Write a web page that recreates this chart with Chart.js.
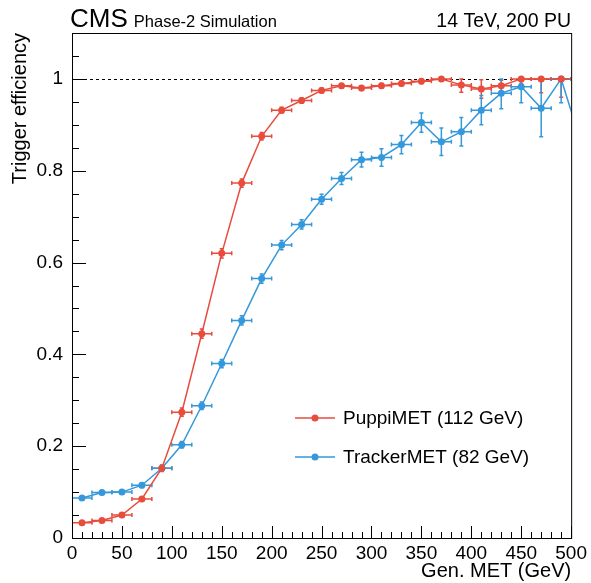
<!DOCTYPE html>
<html>
<head>
<meta charset="utf-8">
<script src="https://cdn.jsdelivr.net/npm/chart.js@4"></script>
<style>
    html, body { margin: 0; padding: 0; background: #fff; }
    canvas { display: block; }
</style>
</head>
<body>
<canvas id="effChart" width="591" height="583"></canvas>
<script>
    // bin centres (GeV), bins are 20 GeV wide; last point sits past the axis end
    const binCenters = [10, 30, 50, 70, 90, 110, 130, 150, 170, 190, 210, 230, 250, 270, 290, 310, 330, 350, 370, 390, 410, 430, 450, 470, 490, 510]
    const binHalfWidth = 10

    const puppiEff = [0.033, 0.038, 0.050, 0.085, 0.152, 0.274, 0.445, 0.620, 0.773, 0.875, 0.932, 0.953, 0.975, 0.985, 0.980, 0.985, 0.990, 0.995, 1.000, 0.987, 0.978, 0.985, 1.000, 1.000, 1.000, 1.000]
    const puppiErr = [0.003, 0.003, 0.004, 0.005, 0.007, 0.009, 0.010, 0.010, 0.009, 0.008, 0.006, 0.006, 0.005, 0.004, 0.005, 0.005, 0.005, 0.005, 0.004, 0.016, 0.020, 0.012, 0.010, 0.030, 0.040, 0.040]

    const trackerEff = [0.087, 0.099, 0.100, 0.115, 0.152, 0.203, 0.288, 0.380, 0.474, 0.565, 0.638, 0.683, 0.738, 0.783, 0.824, 0.829, 0.857, 0.905, 0.863, 0.885, 0.932, 0.969, 0.983, 0.936, 1.000, 0.860]
    const trackerErr = [0.004, 0.004, 0.004, 0.005, 0.006, 0.007, 0.008, 0.009, 0.010, 0.010, 0.010, 0.010, 0.011, 0.013, 0.016, 0.019, 0.020, 0.021, 0.030, 0.031, 0.032, 0.034, 0.035, 0.062, 0.052, 0.060]

    const seriesNames = ['PuppiMET (112 GeV)', 'TrackerMET (82 GeV)']
    const seriesColors = ['#e74c3c', '#3498db']

    const yTicks = [0, 0.2, 0.4, 0.6, 0.8, 1]
    const xRange = [0, 500]
    const yRange = [0, 1.1]

    const FONT = "'Liberation Sans', Arial, Helvetica, sans-serif"

    const toPoints = (vals) => vals.map((v, i) => ({ x: binCenters[i], y: v }))
    const errs = [puppiErr, trackerErr]

    // ROOT-like frame, inner ticks, dashed line at 1, error bars, legend, header
    const rootStyle = {
        id: 'rootStyle',
        beforeDatasetsDraw(chart) {
            const { ctx, chartArea: a, scales: { x, y } } = chart
            ctx.save()
            ctx.beginPath()
            ctx.rect(a.left, a.top, a.right - a.left, a.bottom - a.top)
            ctx.clip()

            // dashed line at efficiency 1
            ctx.strokeStyle = '#000'
            ctx.lineWidth = 1
            ctx.setLineDash([3, 3])
            ctx.beginPath()
            ctx.moveTo(a.left, Math.round(y.getPixelForValue(1)) + 0.5)
            ctx.lineTo(a.right, Math.round(y.getPixelForValue(1)) + 0.5)
            ctx.stroke()
            ctx.setLineDash([])

            // error bars
            chart.data.datasets.forEach((ds, di) => {
                ctx.strokeStyle = ds.borderColor
                ctx.lineWidth = 1.5
                ds.data.forEach((p, i) => {
                    if (p.x > xRange[1]) return
                    const px = x.getPixelForValue(p.x)
                    const py = y.getPixelForValue(p.y)
                    const x0 = x.getPixelForValue(p.x - binHalfWidth)
                    const x1 = x.getPixelForValue(p.x + binHalfWidth)
                    const e = errs[di][i]
                    const y0 = y.getPixelForValue(Math.max(0, p.y - e))
                    const y1 = y.getPixelForValue(Math.min(1, p.y + e))
                    ctx.beginPath()
                    ctx.moveTo(x0, py); ctx.lineTo(x1, py)
                    ctx.moveTo(x0, py - 2); ctx.lineTo(x0, py + 2)
                    ctx.moveTo(x1, py - 2); ctx.lineTo(x1, py + 2)
                    if (y0 - y1 > 2) {
                        ctx.moveTo(px, y0); ctx.lineTo(px, y1)
                        ctx.moveTo(px - 2, y0); ctx.lineTo(px + 2, y0)
                        ctx.moveTo(px - 2, y1); ctx.lineTo(px + 2, y1)
                    }
                    ctx.stroke()
                })
            })
            ctx.restore()
        },
        afterDraw(chart) {
            const { ctx, chartArea: a, scales: { x, y } } = chart
            ctx.save()
            ctx.strokeStyle = '#000'
            ctx.lineWidth = 1
            ctx.strokeRect(a.left + 0.5, a.top + 0.5, a.right - a.left, a.bottom - a.top)

            // inner tick marks
            ctx.beginPath()
            for (let v = xRange[0]; v <= xRange[1]; v += 10) {
                const px = Math.round(x.getPixelForValue(v)) + 0.5
                const len = v % 50 === 0 ? 12 : 6
                ctx.moveTo(px, a.bottom); ctx.lineTo(px, a.bottom - len)
            }
            for (let k = 0; k <= 22; k++) {
                const v = k * 0.05
                const py = Math.round(y.getPixelForValue(v)) + 0.5
                const len = k % 4 === 0 ? 14 : 7
                ctx.moveTo(a.left, py); ctx.lineTo(a.left + len, py)
            }
            ctx.stroke()

            // legend
            chart.data.datasets.forEach((ds, di) => {
                const ly = 418 + di * 39
                ctx.strokeStyle = ds.borderColor
                ctx.fillStyle = ds.borderColor
                ctx.lineWidth = 1.5
                ctx.beginPath()
                ctx.moveTo(295, ly); ctx.lineTo(335, ly)
                ctx.stroke()
                ctx.beginPath()
                ctx.arc(315, ly, 3.5, 0, Math.PI * 2)
                ctx.fill()
                ctx.fillStyle = '#000'
                ctx.font = '19px ' + FONT
                ctx.textBaseline = 'middle'
                ctx.textAlign = 'left'
                ctx.fillText(seriesNames[di], 343, ly + 1)
            })

            // header
            ctx.fillStyle = '#000'
            ctx.textBaseline = 'alphabetic'
            ctx.textAlign = 'left'
            ctx.font = '26px ' + FONT
            ctx.fillText('CMS', 70, 27)
            const w = ctx.measureText('CMS').width
            ctx.font = '16.5px ' + FONT
            ctx.fillText('Phase-2 Simulation', 70 + w + 6, 27)
            ctx.textAlign = 'right'
            ctx.font = '19.5px ' + FONT
            ctx.fillText('14 TeV, 200 PU', a.right, 27)
            ctx.restore()
        }
    }

    const ctx = document.getElementById('effChart')
    const effChart = new Chart(ctx, {
        type: 'line',
        data: {
            datasets: [{
                label: seriesNames[0],
                data: toPoints(puppiEff),
                borderColor: seriesColors[0],
                backgroundColor: seriesColors[0],
                borderWidth: 1.5,
                pointRadius: 3.5,
                pointBorderWidth: 0,
                tension: 0,
                clip: 0
            }, {
                label: seriesNames[1],
                data: toPoints(trackerEff),
                borderColor: seriesColors[1],
                backgroundColor: seriesColors[1],
                borderWidth: 1.5,
                pointRadius: 3.5,
                pointBorderWidth: 0,
                tension: 0,
                clip: 0
            }]
        },
        options: {
            responsive: false,
            animation: false,
            devicePixelRatio: 1,
            layout: { padding: { left: 0, top: 33, right: 19, bottom: 0 } },
            plugins: {
                legend: { display: false },
                tooltip: { enabled: false }
            },
            scales: {
                x: {
                    type: 'linear',
                    min: xRange[0],
                    max: xRange[1],
                    afterFit: (s) => { s.height = 45 },
                    grid: { display: false, drawTicks: false },
                    border: { display: false },
                    ticks: {
                        stepSize: 50,
                        padding: 4,
                        color: '#000',
                        maxRotation: 0,
                        font: { family: FONT, size: 19 }
                    },
                    title: {
                        display: true,
                        text: 'Gen. MET (GeV)',
                        align: 'end',
                        color: '#000',
                        padding: { top: -2, bottom: 0 },
                        font: { family: FONT, size: 20 }
                    }
                },
                y: {
                    min: yRange[0],
                    max: yRange[1],
                    afterFit: (s) => { s.width = 72 },
                    afterBuildTicks: (s) => { s.ticks = yTicks.map(v => ({ value: v })) },
                    grid: { display: false, drawTicks: false },
                    border: { display: false },
                    ticks: {
                        padding: 9,
                        color: '#000',
                        font: { family: FONT, size: 19 },
                        callback: (v) => String(+v.toFixed(1))
                    },
                    title: {
                        display: true,
                        text: 'Trigger efficiency',
                        align: 'end',
                        color: '#000',
                        padding: { top: 8, bottom: 0 },
                        font: { family: FONT, size: 20 }
                    }
                }
            }
        },
        plugins: [rootStyle]
    })
</script>
</body>
</html>
